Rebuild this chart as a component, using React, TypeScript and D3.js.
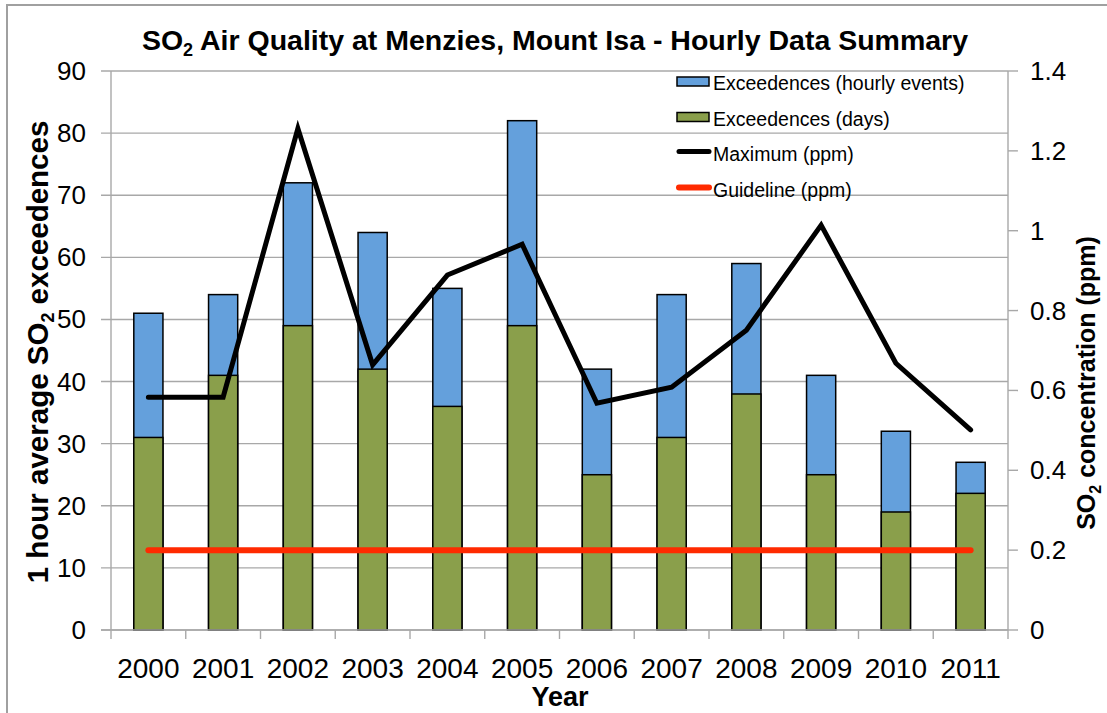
import * as d3 from "d3"

const years = ["2000", "2001", "2002", "2003", "2004", "2005", "2006", "2007", "2008", "2009", "2010", "2011"]
const hourlyEvents = [51, 54, 72, 64, 55, 82, 42, 54, 59, 41, 32, 27]
const exceedenceDays = [31, 41, 49, 42, 36, 49, 25, 31, 38, 25, 19, 22]
const maximumPpm = [0.583, 0.583, 1.256, 0.664, 0.889, 0.966, 0.568, 0.608, 0.751, 1.014, 0.668, 0.501]
const guidelinePpm = [0.2, 0.2, 0.2, 0.2, 0.2, 0.2, 0.2, 0.2, 0.2, 0.2, 0.2, 0.2]
const leftTicks = [0, 10, 20, 30, 40, 50, 60, 70, 80, 90]
const rightTicks = [0, 0.2, 0.4, 0.6, 0.8, 1, 1.2, 1.4]
const legendLabels = ["Exceedences (hourly events)", "Exceedences (days)", "Maximum (ppm)", "Guideline (ppm)"]

const BLUE = "#64a0dc"
const GREEN = "#8a9f4b"
const RED = "#ff2a00"
const GRID = "#a8a8a8"
const FONT = "'Liberation Sans', Arial, sans-serif"

export default function App() {
  const width = 1107
  const height = 713
  const plot = { left: 111, right: 1008, top: 71, bottom: 630 }

  const x = d3.scaleBand().domain(years).range([plot.left, plot.right]).padding(0)
  const barW = x.bandwidth() * 0.39
  const yLeft = d3.scaleLinear().domain([0, 90]).range([plot.bottom, plot.top])
  const yRight = d3.scaleLinear().domain([0, 1.4]).range([plot.bottom, plot.top])
  const cx = (yr: string) => x(yr)! + x.bandwidth() / 2

  // both lines sit on the right (ppm) axis
  const ppmLine = d3
    .line<number>()
    .x((_, i) => cx(years[i]))
    .y((d) => yRight(d))

  const legX = 677
  const legBase = [90, 125.5, 161, 196.5]

  return (
    <svg
      width={width}
      height={height}
      style={{ position: "absolute", left: 0, top: 0, background: "#fff" }}
      fontFamily={FONT}
    >
      <rect x={7} y={5} width={width + 20} height={height + 20} fill="#fff" stroke="#a0a0a0" strokeWidth={2} />

      {/* gridlines */}
      {leftTicks.map((t) => (
        <line key={t} x1={plot.left - 10} x2={plot.right} y1={yLeft(t)} y2={yLeft(t)} stroke={GRID} strokeWidth={1.4} />
      ))}
      <line x1={plot.left} x2={plot.left} y1={plot.top} y2={plot.bottom} stroke={GRID} strokeWidth={1.4} />
      <line x1={plot.right} x2={plot.right} y1={plot.top} y2={plot.bottom} stroke={GRID} strokeWidth={1.4} />
      {rightTicks.map((t) => (
        <line key={t} x1={plot.right} x2={plot.right + 10} y1={yRight(t)} y2={yRight(t)} stroke={GRID} strokeWidth={1.4} />
      ))}
      {d3.range(years.length + 1).map((i) => {
        const xx = plot.left + i * x.bandwidth()
        return <line key={i} x1={xx} x2={xx} y1={plot.bottom} y2={plot.bottom + 9} stroke={GRID} strokeWidth={1.4} />
      })}

      {/* legend */}
      {[BLUE, GREEN].map((c, i) => (
        <rect key={c} x={legX} y={legBase[i] - 13} width={32} height={9} fill={c} stroke="#000" strokeWidth={1.5} />
      ))}
      <line x1={legX + 2} x2={legX + 32} y1={legBase[2] - 9.5} y2={legBase[2] - 9.5} stroke="#000" strokeWidth={5} strokeLinecap="round" />
      <line x1={legX + 2} x2={legX + 32} y1={legBase[3] - 9} y2={legBase[3] - 9} stroke={RED} strokeWidth={6} strokeLinecap="round" />
      {legendLabels.map((l, i) => (
        <text key={l} x={legX + 36} y={legBase[i]} fontSize={19.5} fill="#000">
          {l}
        </text>
      ))}

      {/* bars */}
      {years.map((yr, i) => (
        <g key={yr}>
          <rect
            x={cx(yr) - barW / 2}
            y={yLeft(hourlyEvents[i])}
            width={barW}
            height={yLeft(0) - yLeft(hourlyEvents[i])}
            fill={BLUE}
            stroke="#000"
            strokeWidth={1.5}
          />
          <rect
            x={cx(yr) - barW / 2}
            y={yLeft(exceedenceDays[i])}
            width={barW}
            height={yLeft(0) - yLeft(exceedenceDays[i])}
            fill={GREEN}
            stroke="#000"
            strokeWidth={1.5}
          />
        </g>
      ))}

      <line x1={plot.left - 10} x2={plot.right} y1={plot.bottom} y2={plot.bottom} stroke={GRID} strokeWidth={1.4} />

      {/* lines */}
      <path d={ppmLine(maximumPpm)!} fill="none" stroke="#000" strokeWidth={5} strokeLinejoin="miter" strokeLinecap="round" />
      <path d={ppmLine(guidelinePpm)!} fill="none" stroke={RED} strokeWidth={6} strokeLinecap="round" />

      {/* axis labels */}
      {leftTicks.map((t) => (
        <text key={t} x={86} y={yLeft(t) + 9} fontSize={26} textAnchor="end" fill="#000">
          {t}
        </text>
      ))}
      {rightTicks.map((t) => (
        <text key={t} x={1030} y={yRight(t) + 9} fontSize={26} fill="#000">
          {d3.format("~g")(t)}
        </text>
      ))}
      {years.map((yr) => (
        <text key={yr} x={cx(yr)} y={678} fontSize={28} textAnchor="middle" fill="#000">
          {yr}
        </text>
      ))}

      {/* titles */}
      <text x={555} y={50} fontSize={28.5} fontWeight="bold" textAnchor="middle" fill="#000">
        SO<tspan fontSize={18} dy={6}>2</tspan>
        <tspan dy={-6}> Air Quality at Menzies, Mount Isa - Hourly Data Summary</tspan>
      </text>
      <text x={560} y={706} fontSize={27} fontWeight="bold" textAnchor="middle" fill="#000">
        Year
      </text>
      <text transform="translate(48,352) rotate(-90)" fontSize={29.5} fontWeight="bold" textAnchor="middle" fill="#000">
        1 hour average SO<tspan fontSize={18} dy={6}>2</tspan>
        <tspan dy={-6}> exceedences</tspan>
      </text>
      <text transform="translate(1095,383) rotate(-90)" fontSize={25} fontWeight="bold" textAnchor="middle" fill="#000">
        SO<tspan fontSize={16} dy={6}>2</tspan>
        <tspan dy={-6}> concentration (ppm)</tspan>
      </text>
    </svg>
  )
}
